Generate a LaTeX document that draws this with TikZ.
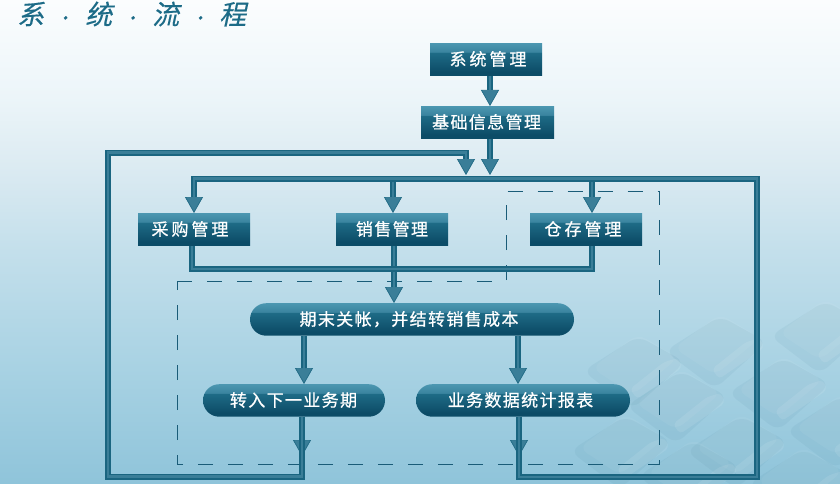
\documentclass[tikz,border=0pt]{standalone}
\usepackage{fontspec}
\usetikzlibrary{arrows.meta,shapes.misc}
\newfontfamily\cjk[LetterSpace=8,FakeBold=0.7]{Noto Sans CJK SC}
\newfontfamily\cjkwide[LetterSpace=17.5,FakeBold=0.7]{Noto Sans CJK SC}
\newfontfamily\cjktitle[FakeSlant=0.22,FakeBold=0.4]{Noto Sans CJK SC}
\newcommand{\lab}[2]{\raisebox{2.3pt}{\hspace*{#1pt}#2}}
\newcommand{\tdot}{{\fontsize{17}{17}\selectfont ·}}
\definecolor{dk}{HTML}{1A6580}
\definecolor{md}{HTML}{3A7E98}
\definecolor{dashc}{HTML}{1A5C78}
\definecolor{titlec}{HTML}{1C6B87}
\definecolor{bgA}{HTML}{FBFDFE}
\definecolor{bgB}{HTML}{ECF5F9}
\definecolor{bgC}{HTML}{DCEBF2}
\definecolor{bgD}{HTML}{C3DFEB}
\definecolor{bgE}{HTML}{A8D2E3}
\definecolor{bgF}{HTML}{8FC4DA}
\definecolor{btA}{HTML}{4C97B1}
\definecolor{btB}{HTML}{3A849F}
\definecolor{btC}{HTML}{1F6C87}
\definecolor{btD}{HTML}{0C4C67}
\pgfdeclareverticalshading{btnshade}{100bp}{
 color(0bp)=(btD); color(25bp)=(btD); color(31bp)=(btD); color(61bp)=(btC);
 color(61.5bp)=(btB); color(75bp)=(btA); color(100bp)=(btA)}
\pgfdeclareverticalshading{bgshade}{100bp}{
 color(0bp)=(bgF); color(25bp)=(bgF); color(37bp)=(bgE); color(49bp)=(bgD);
 color(58bp)=(bgC); color(65bp)=(bgB); color(75bp)=(bgA); color(100bp)=(bgA)}
\tikzset{
 x=1pt,y=-1pt,
 btnbase/.style={shade,shading=btnshade,text=white,font=\cjk\fontsize{17}{17}\selectfont,
   minimum height=32.5pt,inner sep=0pt,anchor=north},
 boxn/.style={btnbase,rectangle,font=\cjkwide\fontsize{17}{17}\selectfont},
 boxs/.style={btnbase,rectangle},
 pilln/.style={btnbase,rounded rectangle},
 flow/.style={draw=dk,line width=6pt,line join=miter,
   -{Triangle[length=16pt,width=18pt,fill=md,color=dk!80!md,line width=.7pt,sep=0pt]},
   postaction={draw=md,line width=2.4pt,arrows=-,shorten >=14pt}},
 rail/.style={draw=dk,line width=6pt,line join=miter,
   postaction={draw=md,line width=2.4pt}},
 dashbox/.style={draw=dashc,line width=1pt,dash pattern=on 15pt off 15pt},
 keyface/.style={fill=white,fill opacity=.05,rounded corners=9pt},
 keylip/.style={fill=white,fill opacity=.09,rounded corners=4pt},
 keyshadow/.style={fill=dashc,fill opacity=.055,rounded corners=10pt},
}
\begin{document}
\begin{tikzpicture}
\useasboundingbox (0,0) rectangle (840,484);
\shade[shading=bgshade] (0,0) rectangle (840,484);
% keyboard backdrop
\foreach \cx/\cy in {678/400,780/387,738/445,838/425,800/478,622/445,635/365,717/345,822/330,690/470}{
  \fill[keyshadow] (\cx+3,\cy-29) -- (\cx+50,\cy-3) -- (\cx-2,\cy+44) -- (\cx-52,\cy+6) -- cycle;
  \fill[keyface] (\cx+3,\cy-31) -- (\cx+43,\cy-7) -- (\cx-2,\cy+30) -- (\cx-43,\cy+3) -- cycle;
  \fill[keylip] (\cx+29,\cy-3) -- (\cx+43,\cy-7) -- (\cx+47,\cy+3) -- (\cx+2,\cy+34) -- (\cx-5,\cy+24) -- cycle;
}
% title
\node[anchor=west,text=titlec,font=\cjktitle\fontsize{27}{27}\selectfont,inner sep=0pt] (title) at (17,14)
 {\makebox[26pt][l]{系}\makebox[42pt]{\tdot}\makebox[26pt][l]{统}\makebox[41pt]{\tdot}\makebox[27pt][l]{流}\makebox[40pt]{\tdot}\makebox[27pt][l]{程}};
% dashed region
\draw[dashbox] (177,281) -- (506,281) -- (506,191.5) -- (659,191.5) -- (659,464) -- (177,464) -- cycle;
% nodes
\node[boxn,minimum width=112pt] (sys) at (486,43) {\lab{4}{系统管理}};
\node[boxs,minimum width=133pt] (base) at (487.5,106) {\lab{-2}{基础信息管理}};
\node[boxn,minimum width=112pt] (buy) at (194,213) {\lab{-8}{采购管理}};
\node[boxs,minimum width=112pt] (sell) at (392,213) {\lab{0}{销售管理}};
\node[boxn,minimum width=112pt] (store) at (586,213) {\lab{-6}{仓存管理}};
\node[pilln,minimum width=324pt] (close) at (412,303) {\lab{-6}{期末关帐，并结转销售成本}};
\node[pilln,minimum width=182pt] (next) at (294,384) {\lab{-1}{转入下一业务期}};
\node[pilln,minimum width=214pt] (stat) at (523,384) {\lab{-5}{业务数据统计报表}};
% coordinates
\coordinate (mergeL) at (466,175);
\coordinate (mergeR) at (490,175);
\coordinate (tipNext) at (302,456);
\coordinate (tipStat) at (519,456);
\coordinate (tipBuy) at (194,213);
\coordinate (tipSell) at (393,213);
\coordinate (tipStore) at (592,213);
% arrows into buttons
\draw[flow] (sys.south -| mergeR) -- (base.north -| mergeR);
\draw[flow] (base.south -| mergeR) -- (mergeR);
% arrows on feedback lines
\draw[flow] (next.south -| tipNext) -- (tipNext);
\draw[flow] (stat.south -| tipStat) -- (tipStat);
% feedback loops
\draw[flow] (next.south -| tipNext) -- (302,476.5) -- (108,476.5) -- (108,152.5) -- (466,152.5) -- (mergeL);
% branches, below the top rail
\draw[flow] (194,179) -- (tipBuy);
\draw[flow] (393,179) -- (tipSell);
\draw[flow] (592,179) -- (tipStore);
\draw[rail] (stat.south -| tipStat) -- (519,477) -- (757,477) -- (757,178.5) -- (194,178.5) -- (194,186);
% collect bus
\draw[flow] (sell.south -| 394,0) -- (close.north -| 394,0);
\draw[rail] (buy.south -| 192,0) -- (192,269) -- (592,269) -- (store.south -| tipStore);
\draw[flow] (close.south -| 304,0) -- (next.north -| 304,0);
\draw[flow] (close.south -| 518,0) -- (stat.north -| 518,0);
% redraw shafts over the feedback arrowheads
\draw[rail] (next.south -| tipNext) -- (302,460);
\draw[rail] (stat.south -| tipStat) -- (519,460);
\end{tikzpicture}
\end{document}
